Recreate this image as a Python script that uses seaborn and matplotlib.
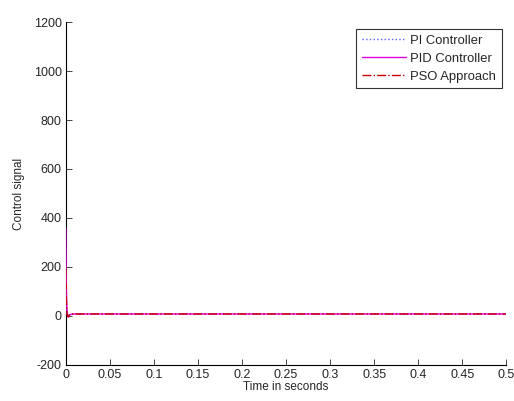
import numpy as np
import pandas as pd
import seaborn as sns
import matplotlib
matplotlib.use("Agg")
import matplotlib.pyplot as plt

# a short spike at t=0, then flat near 8
time_s = [0.0, 0.0005, 0.001, 0.0015, 0.002, 0.003, 0.004, 0.006, 0.01, 0.05, 0.5]
pi_ctrl = [120, 60, 25, 10, 5, 3, 5, 7, 8, 8, 8]
pid_ctrl = [360, 150, 50, 15, 2, -5, 3, 7, 8, 8, 8]
pso_ctrl = [200, 90, 30, 8, 0, -4, 4, 7, 8, 8, 8]

d = pd.DataFrame({"t": time_s * 3,
                  "u": pi_ctrl + pid_ctrl + pso_ctrl,
                  "name": ["PI Controller"] * len(time_s) + ["PID Controller"] * len(time_s)
                          + ["PSO Approach"] * len(time_s)})

sns.set_theme(style="white")
plt.rcParams['font.family'] = ['Liberation Sans', 'DejaVu Sans']
plt.rcParams['axes.unicode_minus'] = False

fig, ax = plt.subplots(figsize=(5.14, 4.01), dpi=100)
fig.subplots_adjust(left=0.128, right=0.985, top=0.945, bottom=0.09)

palette = {"PI Controller": "#6060ff", "PID Controller": "#e000e0", "PSO Approach": "#cc0000"}
styles = {"PI Controller": ":", "PID Controller": "-", "PSO Approach": "-."}
for name in ["PI Controller", "PID Controller", "PSO Approach"]:
    sub = d[d["name"] == name]
    sns.lineplot(data=sub, x="t", y="u", ax=ax, color=palette[name], linestyle=styles[name],
                 linewidth=1, label=name, zorder=3)

ax.set_xlim(0, 0.5)
ax.set_ylim(-200, 1200)
ax.set_xticks(np.arange(0, 0.51, 0.05))
ax.set_xticklabels(["0", "0.05", "0.1", "0.15", "0.2", "0.25", "0.3", "0.35", "0.4", "0.45", "0.5"])
ax.set_yticks(range(-200, 1201, 200))
ax.set_xlabel("Time in seconds", fontsize=8.5, labelpad=0)
ax.set_ylabel("Control signal", fontsize=8.5, labelpad=6)
ax.tick_params(direction="in", length=4, labelsize=9, pad=3, bottom=True, left=True, width=0.6)
for s in ["top", "right"]:
    ax.spines[s].set_visible(False)
for s in ["left", "bottom"]:
    ax.spines[s].set_color("black")
    ax.spines[s].set_linewidth(0.8)

leg = ax.legend(loc="upper right", fontsize=9.4, frameon=True, fancybox=False,
                edgecolor="black", bbox_to_anchor=(1.005, 1.0), handlelength=3.4,
                borderpad=0.45, labelspacing=0.45, handletextpad=0.3, borderaxespad=0.5)
leg.get_frame().set_linewidth(0.8)

fig.savefig("out.png", dpi=100)
